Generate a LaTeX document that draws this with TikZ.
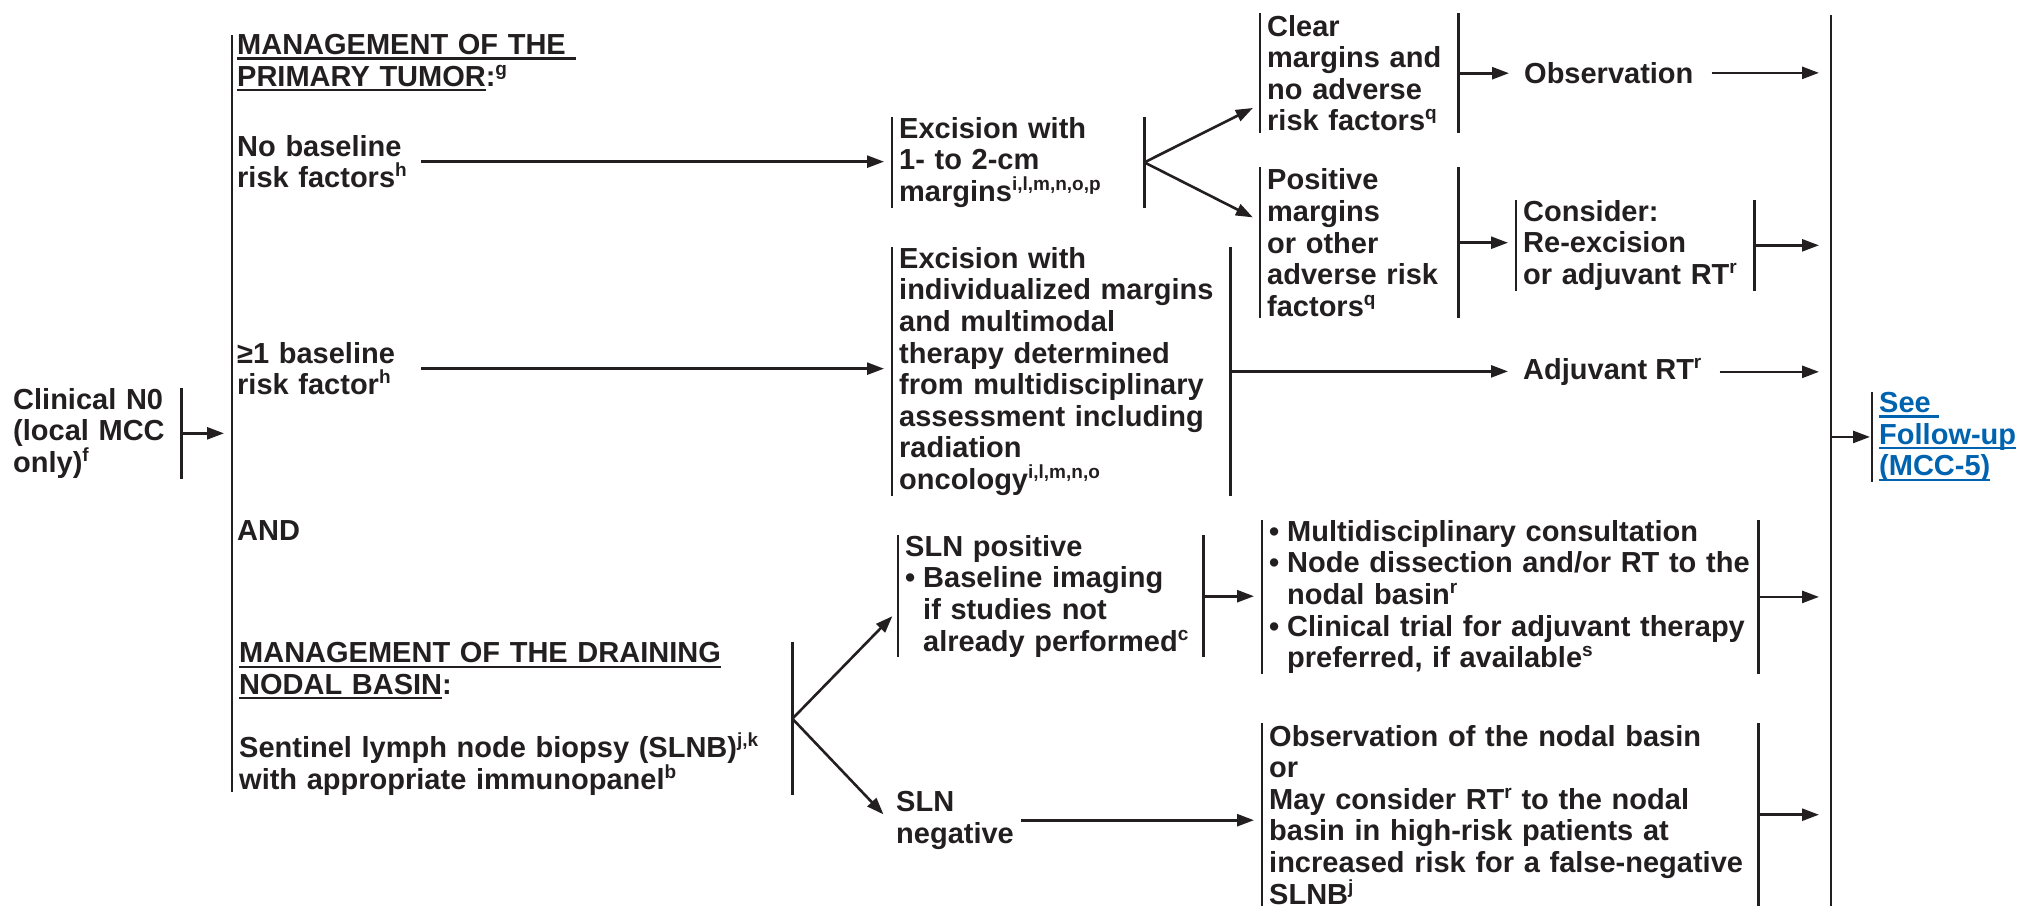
\documentclass[tikz,border=0pt]{standalone}
\usepackage{fontspec}
\setmainfont{Liberation Sans}
\usetikzlibrary{arrows.meta,calc}
\definecolor{ink}{HTML}{231F20}
\definecolor{linkblue}{RGB}{0,99,175}
\newcommand\myul[1]{\leavevmode\setbox0\hbox{#1}\rlap{\rule[-5.2pt]{\wd0}{2.2pt}}\box0}
\newcommand\sps[1]{\raisebox{11pt}{\fontsize{19}{19}\selectfont #1}}
\newcommand\mybul{\makebox[18pt][l]{•}}
\newcommand\myind{\hspace*{18pt}}
\tikzset{
  tx/.style={anchor=north west, inner xsep=7pt, inner ysep=0pt, align=left, text=ink,
    font=\fontsize{29}{31.6}\selectfont\bfseries,
    execute at begin node={\lineskiplimit=-50pt}},
  brk/.style={draw=ink, line width=2.4pt},
  lb/.style={append after command={(\tikzlastnode.north west) edge[brk] (\tikzlastnode.south west)}},
  rb/.style={append after command={(\tikzlastnode.north east) edge[brk] (\tikzlastnode.south east)}},
  ar/.style={draw=ink, line width=2.6pt, -{Triangle[length=17pt,width=12pt]}, shorten >=8pt}
}
\begin{document}
\begin{tikzpicture}[x=1pt, y=-1pt]
\useasboundingbox (0,0) rectangle (2019,906);
% long bracket lines
\coordinate (mt) at (232,35);
\coordinate (mb) at (232,792);
\draw[brk] (mt) -- (mb);
\coordinate (bt) at (1831,15);
\coordinate (bb) at (1831,906);
\draw[brk] (bt) -- (bb);

% left column
\node[tx, rb, text width=161pt, minimum height=90pt] (clin) at (6,388) {Clinical N0\\(local MCC\\only)\sps{f}};
\node[tx, text width=420pt] (hdr1) at (230,34) {\myul{MANAGEMENT OF THE\ }\\\myul{PRIMARY TUMOR}:\sps{g}};
\node[tx, text width=177pt] (nobase) at (230,135) {No baseline\\risk factors\sps{h}};
\node[tx, text width=177pt] (ge1) at (230,342) {≥1 baseline\\risk factor\sps{h}};
\node[tx] (and) at (230,520) {AND};
\node[tx, rb, text width=546pt, minimum height=153pt] (nodal) at (232,642) {\myul{MANAGEMENT OF THE DRAINING}\\\myul{NODAL BASIN}:\\[31.6pt]Sentinel lymph node biopsy (SLNB)\sps{j,k}\\with appropriate immunopanel\sps{b}};

% middle column
\node[tx, lb, rb, text width=238pt, minimum height=90pt] (exc1) at (892,117) {Excision with\\1- to 2-cm\\margins\sps{i,l,m,n,o,p}};
\node[tx, lb, rb, text width=324pt, minimum height=248pt] (exc2) at (892,247) {Excision with\\individualized margins\\and multimodal\\therapy determined\\from multidisciplinary\\assessment including\\radiation\\oncology\sps{i,l,m,n,o}};
\node[tx, lb, rb, text width=291pt, minimum height=122pt] (slnpos) at (898,535) {SLN positive\\\mybul Baseline imaging\\\myind if studies not\\\myind already performed\sps{c}};
\node[tx] (slnneg) at (889,791) {SLN\\negative};

% right columns
\node[tx, lb, rb, text width=184pt, minimum height=120pt] (clear) at (1260,13) {Clear\\margins and\\no adverse\\risk factors\sps{q}};
\node[tx, lb, rb, text width=184pt, minimum height=151pt] (pos) at (1260,167) {Positive\\margins\\or other\\adverse risk\\factors\sps{q}};
\node[tx] (obs) at (1517,62) {Observation};
\node[tx, lb, rb, text width=224pt, minimum height=90pt] (consider) at (1516,200) {Consider:\\Re-excision\\or adjuvant RT\sps{r}};
\node[tx] (adj) at (1516,358) {Adjuvant RT\sps{r}};
\node[tx, lb, rb, text width=482pt, minimum height=153pt] (multi) at (1262,520) {\mybul Multidisciplinary consultation\\\mybul Node dissection and/or RT to the\\\myind nodal basin\sps{r}\\\mybul Clinical trial for adjuvant therapy\\\myind preferred, if available\sps{s}};
\node[tx, lb, rb, text width=482pt, minimum height=183pt] (obsn) at (1262,723) {Observation of the nodal basin\\or\\May consider RT\sps{r} to the nodal\\basin in high-risk patients at\\increased risk for a false-negative\\SLNB\sps{j}};
\node[tx, lb, text=linkblue, minimum height=88pt] (follow) at (1872,392) {\myul{See\ }\\\myul{Follow-up}\\\myul{(MCC-5)}};

% connectors
\draw[ar] (clin.east) -- (clin.east -| mt);
\draw[ar] (nobase.east) -- (nobase.east -| exc1.west);
\draw[ar] (ge1.east) -- (ge1.east -| exc2.west);
\draw[ar] (exc1.east) -- ($(clear.south west)+(0,-29)$);
\draw[ar] (exc1.east) -- ($(pos.north west)+(0,54)$);
\draw[ar] (clear.east) -- (clear.east -| obs.west);
\draw[ar, shorten <=11pt, shorten >=12pt] (obs.east) -- (obs.east -| bt);
\draw[ar] (pos.east) -- (pos.east -| consider.west);
\draw[ar, shorten >=12pt] (consider.east) -- (consider.east -| bt);
\draw[ar] (exc2.east) -- (exc2.east -| adj.west);
\draw[ar, shorten <=11pt, shorten >=12pt] (adj.east) -- (adj.east -| bt);
\draw[ar, shorten >=2pt] (follow.west -| bt) -- (follow.west);
\draw[ar] (nodal.east) -- ($(slnpos.south west)+(0,-47)$);
\draw[ar] (nodal.east) -- (slnneg.west);
\draw[ar] (slnpos.east) -- (slnpos.east -| multi.west);
\draw[ar, shorten >=12pt] (multi.east) -- (multi.east -| bt);
\draw[ar] (slnneg.east) -- (slnneg.east -| obsn.west);
\draw[ar, shorten >=12pt] (obsn.east) -- (obsn.east -| bt);
\end{tikzpicture}
\end{document}
